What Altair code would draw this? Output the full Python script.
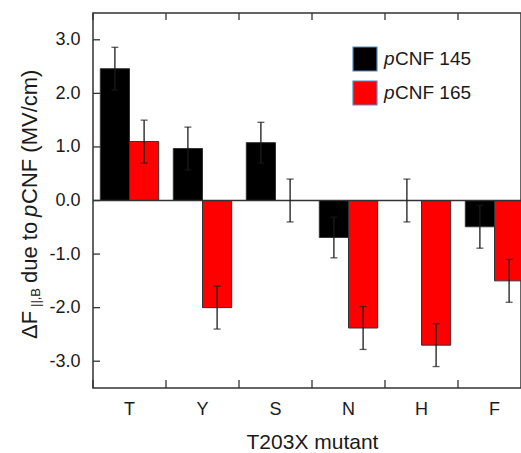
import altair as alt
import pandas as pd

categories = ["T", "Y", "S", "N", "H", "F"]
series = ["pCNF 145", "pCNF 165"]
val_145 = [2.46, 0.97, 1.08, -0.69, 0.0, -0.49]
val_165 = [1.10, -2.00, 0.0, -2.38, -2.70, -1.50]
err_145 = [0.40, 0.40, 0.38, 0.38, 0.40, 0.40]
err_165 = [0.40, 0.40, 0.40, 0.40, 0.40, 0.40]
y_ticks = [-3.0, -2.0, -1.0, 0.0, 1.0, 2.0, 3.0]
colors = ["#000000", "#ff0000"]

rows = []
for i, c in enumerate(categories):
    for s, v, e in ((series[0], val_145[i], err_145[i]), (series[1], val_165[i], err_165[i])):
        rows.append({"cat": c, "series": s, "value": v, "lo": v - e, "hi": v + e})
df = pd.DataFrame(rows)

W, H = 428, 375
FONT = "Liberation Sans"
INK = "#1a1a1a"

x_scale = alt.Scale(domain=categories, range=[0, 438], paddingInner=0, paddingOuter=0)
y_scale = alt.Scale(domain=[-3.5, 3.5], nice=False, zero=False)
off_scale = alt.Scale(domain=series, paddingInner=0, paddingOuter=0.25)

x_axis = alt.Axis(title="T203X mutant", labelAngle=0, ticks=False, tickSize=0, domain=False,
                  labelFontSize=18, labelPadding=12, titleFontSize=21, titlePadding=13,
                  titleFontWeight="normal", labelColor=INK, titleColor=INK,
                  labelFont=FONT, titleFont=FONT)
y_axis = alt.Axis(title=None, values=y_ticks, ticks=False, tickSize=0, domain=False, grid=False,
                  labelFontSize=18, labelPadding=13, labelColor=INK, labelFont=FONT,
                  labelExpr="replace(format(datum.value, '.1f'), '\u2212', '-')")

base = alt.Chart(df)
xo = alt.XOffset("series:N", scale=off_scale)
xe = alt.X("cat:N", scale=x_scale, sort=categories, axis=x_axis)

def ye(field):
    return alt.Y(field, scale=y_scale, axis=y_axis)

bars = base.mark_bar(stroke="#333333", strokeWidth=1).encode(
    x=xe, xOffset=xo, y=ye("value:Q"),
    color=alt.Color("series:N", scale=alt.Scale(domain=series, range=colors), legend=None),
)

zero = alt.Chart(pd.DataFrame({"z": [0.0]})).mark_rule(color="#333333", strokeWidth=1.3).encode(
    y=ye("z:Q"))

err = base.mark_rule(color=INK, strokeWidth=1.3).encode(
    x=xe, xOffset=xo, y=ye("lo:Q"), y2="hi:Q")
cap_lo = base.mark_tick(color=INK, thickness=1.3, size=7, orient="horizontal").encode(
    x=xe, xOffset=xo, y=ye("lo:Q"))
cap_hi = base.mark_tick(color=INK, thickness=1.3, size=7, orient="horizontal").encode(
    x=xe, xOffset=xo, y=ye("hi:Q"))

cat_df = pd.DataFrame({"cat": categories})
xb = alt.X("cat:N", scale=x_scale, sort=categories, axis=x_axis, bandPosition=0)
top_ticks = alt.Chart(cat_df).mark_rule(color="#333333", strokeWidth=1.3).encode(
    x=xb, y=alt.value(0), y2=alt.value(7))
bot_ticks = alt.Chart(cat_df).mark_rule(color="#333333", strokeWidth=1.3).encode(
    x=xb, y=alt.value(H), y2=alt.value(H - 8))
left_ticks = alt.Chart(pd.DataFrame({"v": y_ticks})).mark_rule(color="#333333", strokeWidth=1.3).encode(
    y=ye("v:Q"), x=alt.value(0), x2=alt.value(7))

one = pd.DataFrame({"a": [0]})

def txt(s, x, y, size, style="normal", angle=0, baseline="alphabetic"):
    kw = dict(text=s, font=FONT, fontSize=size, fontStyle=style, color=INK,
              align="left", baseline=baseline)
    if angle:
        kw["angle"] = angle
    return alt.Chart(one).mark_text(**kw).encode(x=alt.value(x), y=alt.value(y))

ytitle = [
    txt("\u0394F", -56, 326, 22, angle=270),
    txt("||,B", -53, 294, 13, angle=270),
    txt("due to", -56, 270, 22, angle=270),
    txt("p", -56, 204, 22, style="italic", angle=270),
    txt("CNF (MV/cm)", -56, 191, 22, angle=270),
]

legend = []
for i, (s, col) in enumerate(zip(series, colors)):
    y0 = 34 + i * 34
    legend.append(alt.Chart(one).mark_rect(fill=col, stroke="#4a8fc7", strokeWidth=1.2).encode(
        x=alt.value(260), x2=alt.value(284), y=alt.value(y0), y2=alt.value(y0 + 24)))
    legend.append(txt("p", 291, y0 + 12, 19, style="italic", baseline="middle"))
    legend.append(txt(s[1:], 302, y0 + 12, 19, baseline="middle"))

chart = alt.layer(bars, zero, err, cap_lo, cap_hi, top_ticks, bot_ticks, left_ticks,
                  *ytitle, *legend).properties(
    width=W, height=H,
    autosize=alt.AutoSizeParams(type="none"),
    padding={"left": 93, "top": 13, "right": 0, "bottom": 65},
    background="white",
).configure_view(stroke="#333333", strokeWidth=1.5)

chart.save("out.html", embed_options={"renderer": "svg", "actions": False})
